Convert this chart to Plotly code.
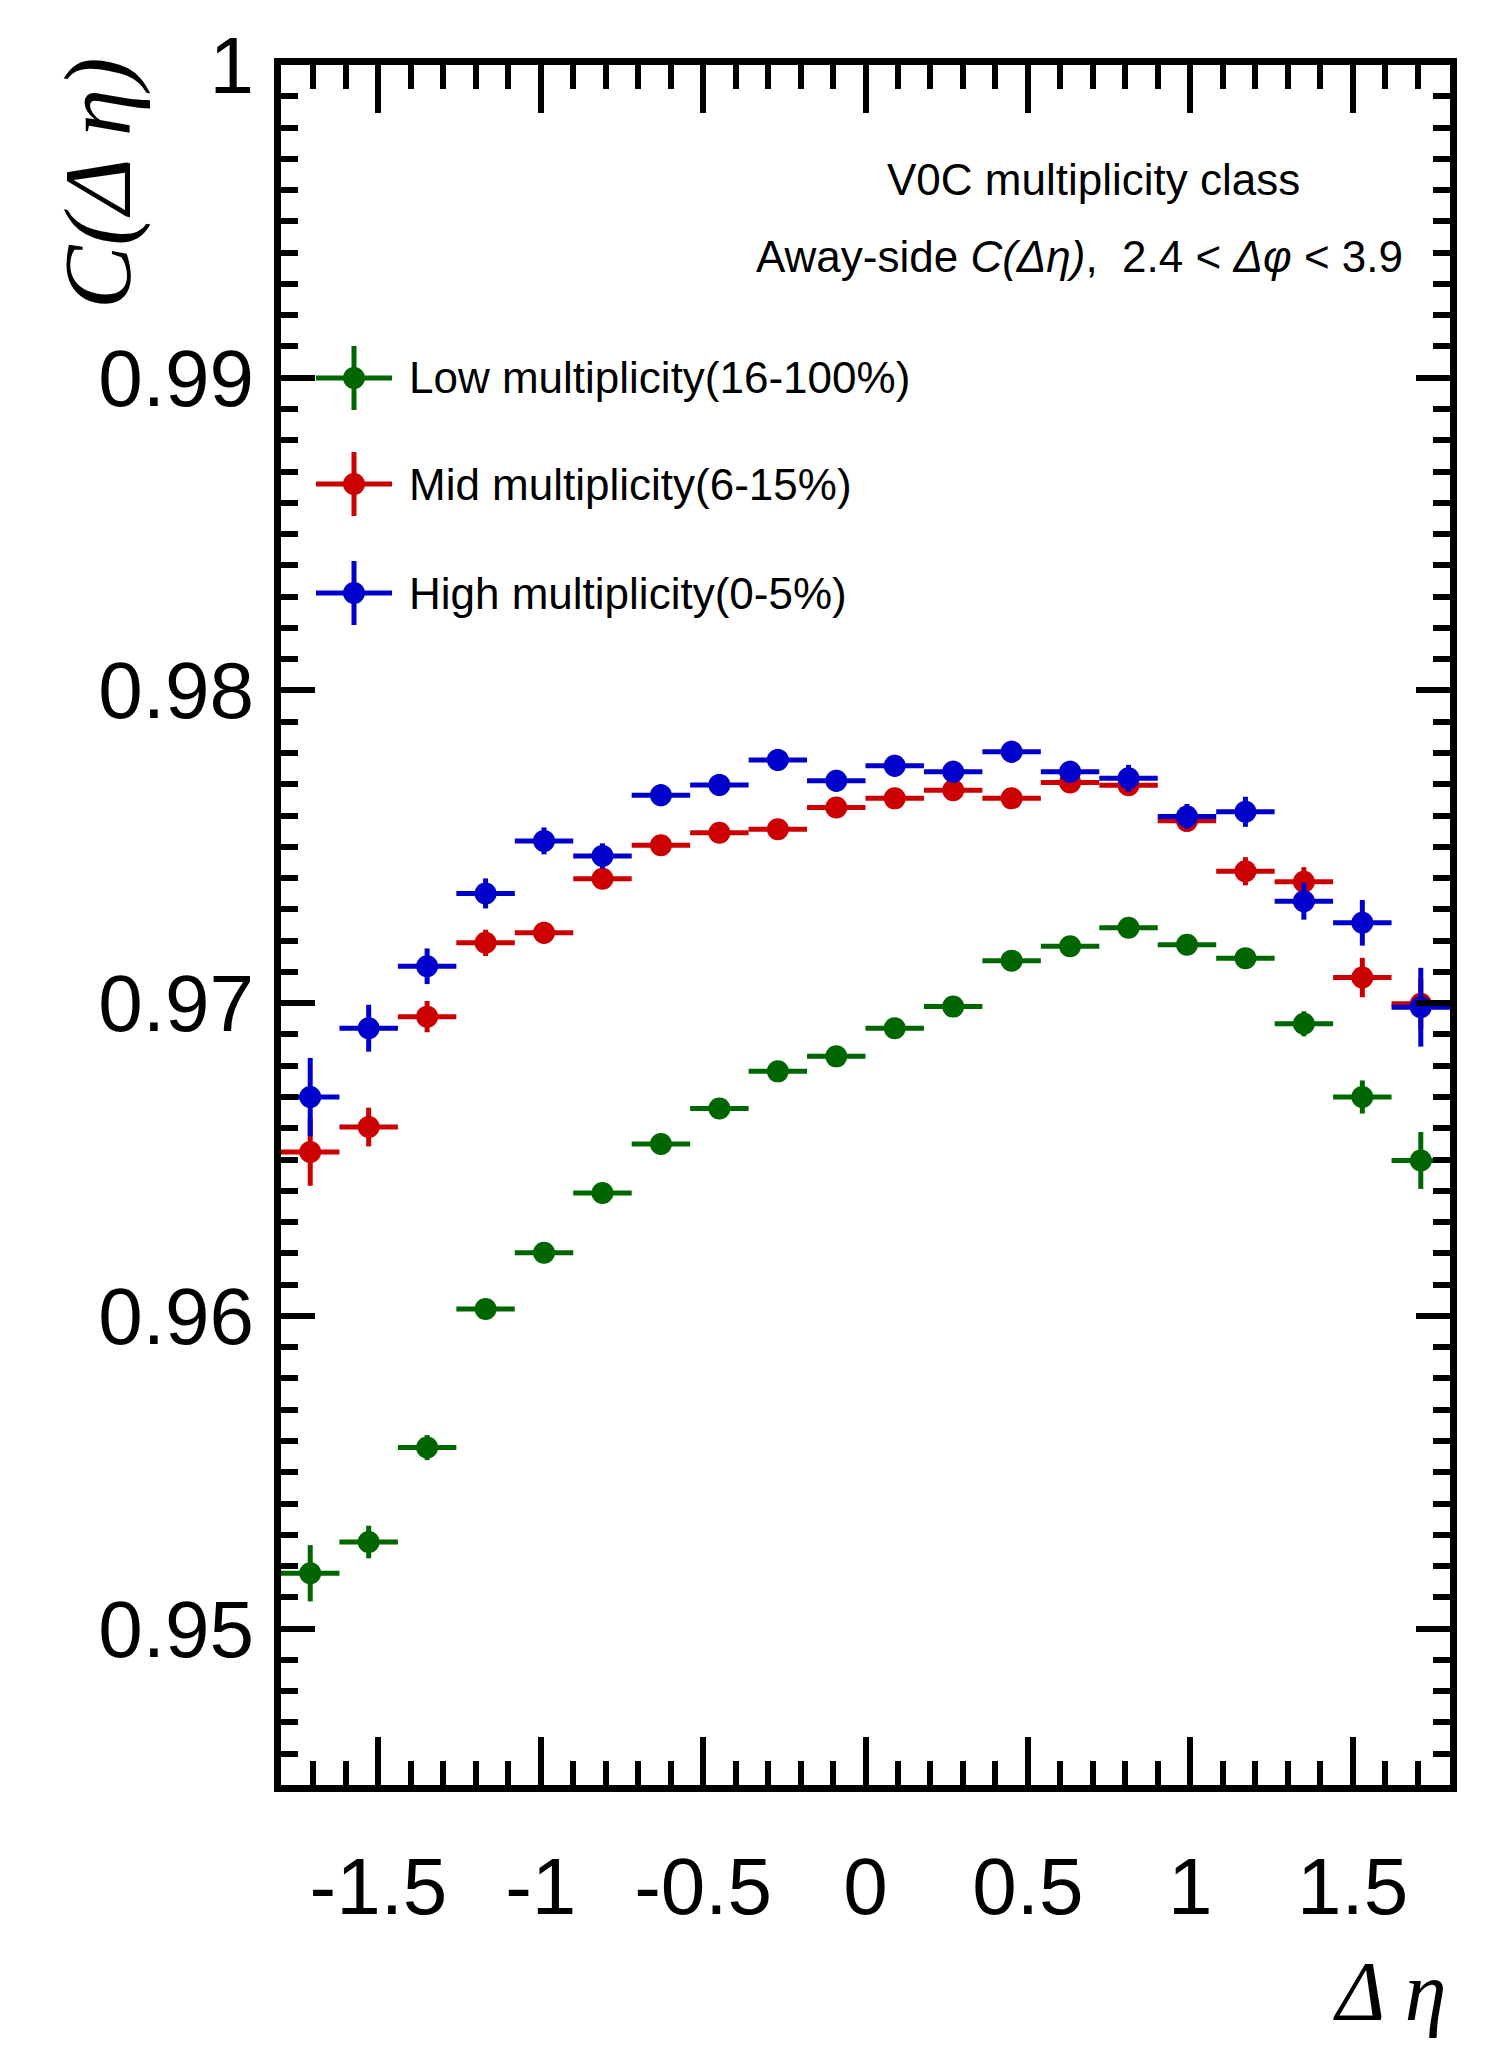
import plotly.graph_objects as go

# ---------------- data ----------------
deta_centers = [-1.71, -1.53, -1.35, -1.17, -0.99, -0.81, -0.63, -0.45, -0.27, -0.09,
                0.09, 0.27, 0.45, 0.63, 0.81, 0.99, 1.17, 1.35, 1.53, 1.71]
bin_half_width = [0.09] * 20

low_vals = [0.95177, 0.95277, 0.95579, 0.96022, 0.96202, 0.96393, 0.96550, 0.96663, 0.96782, 0.96830,
            0.96920, 0.96989, 0.97136, 0.97182, 0.97241, 0.97187, 0.97144, 0.96934, 0.96700, 0.96497]
low_errs = [0.00090, 0.00052, 0.00040, 0.00030, 0.00030, 0.00030, 0.00030, 0.00030, 0.00030, 0.00030,
            0.00030, 0.00030, 0.00030, 0.00030, 0.00030, 0.00030, 0.00030, 0.00040, 0.00053, 0.00091]

mid_vals = [0.96524, 0.96604, 0.96957, 0.97193, 0.97225, 0.97398, 0.97505, 0.97545, 0.97556, 0.97626,
            0.97655, 0.97681, 0.97655, 0.97706, 0.97697, 0.97583, 0.97422, 0.97388, 0.97082, 0.96998]
mid_errs = [0.00108, 0.00062, 0.00050, 0.00042, 0.00035, 0.00030, 0.00030, 0.00030, 0.00030, 0.00030,
            0.00030, 0.00030, 0.00030, 0.00030, 0.00030, 0.00035, 0.00045, 0.00047, 0.00063, 0.00080]

high_vals = [0.96700, 0.96920, 0.97118, 0.97351, 0.97519, 0.97471, 0.97665, 0.97698, 0.97778, 0.97711,
             0.97759, 0.97740, 0.97804, 0.97740, 0.97719, 0.97597, 0.97612, 0.97326, 0.97257, 0.96987]
high_errs = [0.00125, 0.00075, 0.00057, 0.00048, 0.00043, 0.00040, 0.00035, 0.00035, 0.00035, 0.00035,
             0.00035, 0.00035, 0.00035, 0.00035, 0.00043, 0.00040, 0.00048, 0.00059, 0.00073, 0.00126]

series_names = ["Low multiplicity(16-100%)", "Mid multiplicity(6-15%)", "High multiplicity(0-5%)"]
series_colors = ["#006600", "#cc0000", "#0000cc"]

x_tickvals = [-1.5, -1, -0.5, 0, 0.5, 1, 1.5]
x_ticktext = ["-1.5", "-1", "-0.5", "0", "0.5", "1", "1.5"]
y_tickvals = [0.95, 0.96, 0.97, 0.98, 0.99, 1.0]
y_ticktext = ["0.95", "0.96", "0.97", "0.98", "0.99", "1"]

# ---------------- layout geometry (pixels) ----------------
W, H = 1505, 2052
PL, PR, PT, PB = 281, 1450, 65, 1785


def px_x(p):
    return (p - PL) / (PR - PL)


def px_y(p):
    return (PB - p) / (PB - PT)


SANS = "Liberation Sans, Arial, Helvetica, sans-serif"
SERIF = "Liberation Serif, Times New Roman, serif"

fig = go.Figure()

all_vals = [low_vals, mid_vals, high_vals]
all_errs = [low_errs, mid_errs, high_errs]
for name, col, vals, errs in zip(series_names, series_colors, all_vals, all_errs):
    fig.add_trace(go.Scatter(
        x=deta_centers, y=vals, mode="markers", name=name,
        marker=dict(color=col, size=22, line=dict(width=0)),
        error_y=dict(type="data", array=errs, visible=True, color=col, thickness=5, width=0),
        error_x=dict(type="data", array=bin_half_width, visible=True, color=col, thickness=5, width=0),
        showlegend=False,
    ))

axis_common = dict(
    showline=True, linecolor="black", linewidth=7, mirror="allticks",
    ticks="inside", tickcolor="black", tickwidth=6,
    showgrid=False, zeroline=False,
    tickfont=dict(family=SANS, size=80, color="black"),
)

fig.update_xaxes(
    range=[-1.8, 1.8], tickmode="array", tickvals=x_tickvals, ticktext=x_ticktext,
    ticklen=48, ticklabelstandoff=26,
    minor=dict(dtick=0.1, tick0=0, ticks="inside", ticklen=24, tickwidth=6, tickcolor="black", showgrid=False),
    **axis_common,
)
fig.update_yaxes(
    range=[0.945, 1.0], tickmode="array", tickvals=y_tickvals, ticktext=y_ticktext,
    ticklen=34, ticklabelstandoff=4,
    minor=dict(dtick=0.001, tick0=0.945, ticks="inside", ticklen=17, tickwidth=6, tickcolor="black", showgrid=False),
    **axis_common,
)

annotations = [
    dict(text="<i>C(Δ η)</i>", x=px_x(98), y=px_y(55), xref="paper", yref="paper",
         xanchor="center", yanchor="top", textangle=-90, showarrow=False,
         font=dict(family=SERIF, size=95, color="black")),
    dict(text="<i>Δ η</i>", x=px_x(1448), y=px_y(2040), xref="paper", yref="paper",
         xanchor="right", yanchor="bottom", showarrow=False,
         font=dict(family=SERIF, size=84, color="black")),
    dict(text="V0C multiplicity class", x=px_x(1093), y=px_y(179), xref="paper", yref="paper",
         xanchor="center", yanchor="middle", showarrow=False,
         font=dict(family=SANS, size=44, color="black")),
    dict(text="Away-side <i>C(Δη)</i>,  2.4 &lt; <i>Δφ</i> &lt; 3.9", x=px_x(1079), y=px_y(256),
         xref="paper", yref="paper", xanchor="center", yanchor="middle", showarrow=False,
         font=dict(family=SANS, size=44, color="black")),
]

shapes = []
legend_rows = [378, 484, 593]
for name, col, ry in zip(series_names, series_colors, legend_rows):
    shapes.append(dict(type="line", xref="paper", yref="paper",
                       x0=px_x(316), x1=px_x(392), y0=px_y(ry), y1=px_y(ry),
                       line=dict(color=col, width=5)))
    shapes.append(dict(type="line", xref="paper", yref="paper",
                       x0=px_x(354), x1=px_x(354), y0=px_y(ry - 32), y1=px_y(ry + 32),
                       line=dict(color=col, width=5)))
    shapes.append(dict(type="circle", xref="paper", yref="paper",
                       x0=px_x(343), x1=px_x(365), y0=px_y(ry - 11), y1=px_y(ry + 11),
                       fillcolor=col, line=dict(color=col, width=0)))
    annotations.append(dict(text=name, x=px_x(407), y=px_y(ry), xref="paper", yref="paper",
                            xanchor="left", yanchor="middle", showarrow=False,
                            font=dict(family=SANS, size=44, color="black")))

fig.update_layout(
    width=W, height=H,
    margin=dict(l=PL, r=W - PR, t=PT, b=H - PB),
    paper_bgcolor="white", plot_bgcolor="white",
    annotations=annotations, shapes=shapes,
    showlegend=False,
)

fig.write_html("out.html")
